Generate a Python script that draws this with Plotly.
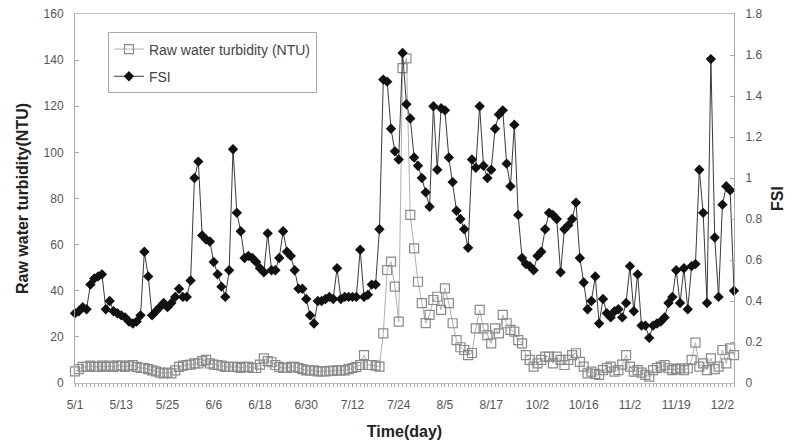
import plotly.graph_objects as go

tick_labels = ["5/1", "5/13", "5/25", "6/6", "6/18", "6/30", "7/12", "7/24",
               "8/5", "8/17", "10/2", "10/16", "11/2", "11/19", "12/2"]
label_step = 12

turbidity = [
    5, 6, 7, 7, 7.5, 7, 7, 7.5, 7, 7.5,
    7, 7.5, 7.5, 7, 7.5, 7.8, 7, 6.5, 6.5, 6,
    5.5, 5, 4.5, 4.2, 4.5, 4.2, 5.5, 7, 7.5, 7.8,
    8, 8.5, 8.5, 9.5, 10, 8.5, 8, 7.8, 7.5, 7,
    7, 7, 7, 6.5, 7, 7, 6.5, 6.5, 8, 10.7,
    9.5, 9, 7.8, 7, 6.5, 6.5, 7, 7, 6.5, 6,
    5.5, 5.5, 5.5, 5, 5, 5, 5.3, 5.3, 5.5, 5.5,
    5.5, 6, 6.5, 7, 7.8, 12.1, 7.8, 7.8, 7.5, 7.1,
    21.5, 49, 52.6, 41.8, 26.6, 136.5, 140.8, 72.9, 58.4, 43.9,
    34.6, 26, 29.5, 36, 37.4, 31.7, 41, 34.6, 25.9, 18.6,
    15.5, 14.3, 12.1, 13, 23.7, 31.7, 23.7, 20.8, 17.2, 23.7,
    21.5, 29.5, 25.9, 23, 22.3, 18.6, 17.2, 12.1, 10, 7.1,
    8.5, 10, 11.4, 11.4, 8.5, 11.4, 10, 7.8, 10, 12.1,
    12.9, 9.2, 7.1, 4.2, 4.9, 4, 3.5, 5.6, 6.5, 7.1,
    4.9, 5.6, 8, 12.1, 7.1, 4.9, 5.6, 4.5, 3.5, 2.8,
    5.6, 6.5, 7.1, 7.8, 6.4, 5.6, 6, 6.4, 5.6, 6.4,
    10, 17.5, 7.1, 8.5, 5.6, 10.7, 6, 7.1, 14.3, 8.5,
    15, 12.1,
]

fsi = [
    0.34, 0.35, 0.37, 0.36, 0.48, 0.51, 0.52, 0.53, 0.36, 0.40,
    0.35, 0.34, 0.33, 0.32, 0.30, 0.29, 0.30, 0.33, 0.64, 0.52,
    0.33, 0.35, 0.37, 0.39, 0.37, 0.39, 0.42, 0.46, 0.42, 0.42,
    0.50, 1.00, 1.08, 0.72, 0.70, 0.69, 0.59, 0.53, 0.47, 0.42,
    0.55, 1.14, 0.83, 0.74, 0.61, 0.62, 0.61, 0.59, 0.56, 0.54,
    0.73, 0.55, 0.55, 0.61, 0.74, 0.64, 0.62, 0.55, 0.46, 0.46,
    0.41, 0.33, 0.29, 0.40, 0.40, 0.41, 0.42, 0.41, 0.56, 0.41,
    0.42, 0.42, 0.42, 0.42, 0.65, 0.42, 0.43, 0.48, 0.48, 0.75,
    1.48, 1.47, 1.24, 1.13, 1.09, 1.61, 1.36, 1.29, 1.10, 1.06,
    1.00, 0.93, 0.86, 1.35, 1.04, 1.34, 1.33, 1.10, 0.98, 0.84,
    0.80, 0.75, 0.66, 1.09, 1.05, 1.35, 1.06, 1.00, 1.04, 1.24,
    1.31, 1.33, 1.07, 0.96, 1.26, 0.82, 0.61, 0.58, 0.57, 0.55,
    0.62, 0.64, 0.75, 0.83, 0.82, 0.80, 0.54, 0.75, 0.77, 0.80,
    0.88, 0.61, 0.49, 0.36, 0.40, 0.52, 0.29, 0.41, 0.34, 0.32,
    0.35, 0.36, 0.32, 0.39, 0.57, 0.35, 0.53, 0.28, 0.28, 0.22,
    0.28, 0.29, 0.30, 0.32, 0.39, 0.42, 0.55, 0.39, 0.56, 0.36,
    0.57, 0.58, 1.04, 0.83, 0.39, 1.58, 0.71, 0.42, 0.87, 0.96,
    0.94, 0.45,
]

n = len(fsi)
x = list(range(n))
tickvals = [i * label_step for i in range(len(tick_labels))]

FONT = "Liberation Sans, Arial, sans-serif"

fig = go.Figure()
fig.add_trace(go.Scatter(
    x=x, y=turbidity, name="Raw water turbidity (NTU)", mode="lines+markers",
    line=dict(color="#b0b0b0", width=1),
    marker=dict(symbol="square-open", size=9, color="#8a8a8a", line=dict(width=1.2)),
    cliponaxis=False, legendgroup="a",
))
fig.add_trace(go.Scatter(
    x=x, y=fsi, name="FSI", mode="lines+markers", yaxis="y2",
    line=dict(color="#3a3a3a", width=1),
    marker=dict(symbol="diamond", size=8, color="#111111"),
    cliponaxis=False, legendgroup="b",
))

fig.update_layout(
    width=792, height=447,
    margin=dict(l=75, r=58, t=14, b=64),
    paper_bgcolor="white", plot_bgcolor="white",
    font=dict(family=FONT, size=12, color="#555555"),
    showlegend=True,
    legend=dict(
        x=0.05, y=0.95, xanchor="left", yanchor="top",
        bgcolor="white", bordercolor="#aaaaaa", borderwidth=1,
        font=dict(size=14, color="#444444"),
        traceorder="grouped", tracegroupgap=6,
    ),
    xaxis=dict(
        range=[0, n - 1], tickmode="array", tickvals=tickvals, ticktext=tick_labels,
        showline=True, linecolor="#bbbbbb", linewidth=1, mirror=True,
        ticks="outside", ticklen=3, tickcolor="#999999",
        minor=dict(tickmode="linear", tick0=0, dtick=1, ticks="outside", ticklen=3, tickcolor="#aaaaaa"),
        showgrid=False, zeroline=False, ticklabelstandoff=8, automargin=False,
        tickfont=dict(size=12, color="#555555"),
        title=dict(text="<b>Time(day)</b>", font=dict(size=16, color="#222222"), standoff=14),
    ),
    yaxis=dict(
        range=[0, 160], dtick=20, showline=True, linecolor="#aaaaaa", linewidth=1,
        ticks="inside", ticklen=4, tickcolor="#aaaaaa",
        showgrid=False, zeroline=False, ticklabelstandoff=8, automargin=False,
        tickfont=dict(size=12, color="#555555"),
        title=dict(text="<b>Raw water turbidity(NTU)</b>", font=dict(size=16, color="#222222"), standoff=10),
    ),
    yaxis2=dict(
        range=[0, 1.8], dtick=0.2, overlaying="y", side="right",
        showline=True, linecolor="#aaaaaa", linewidth=1,
        ticks="inside", ticklen=4, tickcolor="#aaaaaa",
        showgrid=False, zeroline=False, ticklabelstandoff=8, automargin=False,
        tickfont=dict(size=12, color="#555555"),
        title=dict(text="<b>FSI</b>", font=dict(size=16, color="#222222"), standoff=10),
    ),
)

fig.write_html("out.html", config={"displayModeBar": False},
               post_script="document.body.style.margin='0px';document.body.style.overflow='hidden';")
